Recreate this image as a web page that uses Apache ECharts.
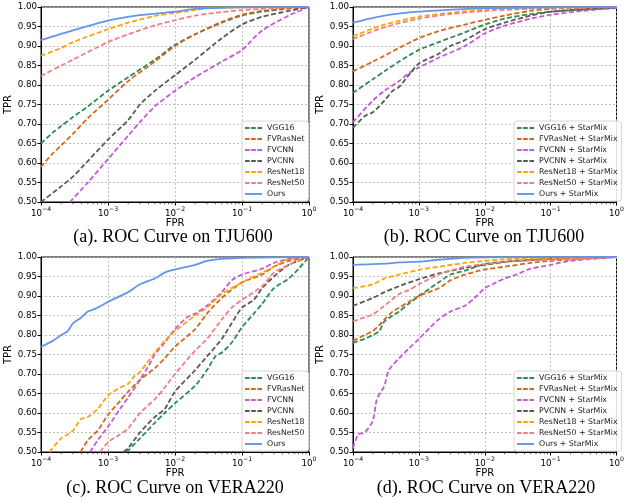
<!DOCTYPE html>
<html>
<head>
<meta charset="utf-8">
<script src="https://cdn.jsdelivr.net/npm/echarts@6/dist/echarts.min.js"></script>
<style>html,body{margin:0;padding:0;background:#fff}#c{width:627px;height:502px}</style>
</head>
<body>
<div id="c"></div>
<script>
// ---------- Data: [FPR, TPR] points ----------
const methods = ['VGG16','FVRasNet','FVCNN','PVCNN','ResNet18','ResNet50','Ours'];
const methodsMix = methods.map(m => m + ' + StarMix');
const xTicks = [1e-4, 1e-3, 1e-2, 1e-1, 1];
const xMinorTicks = [2e-4,3e-4,4e-4,5e-4,6e-4,7e-4,8e-4,9e-4,2e-3,3e-3,4e-3,5e-3,6e-3,7e-3,8e-3,9e-3,2e-2,3e-2,4e-2,5e-2,6e-2,7e-2,8e-2,9e-2,0.2,0.3,0.4,0.5,0.6,0.7,0.8,0.9];
const yTicks = [0.50,0.55,0.60,0.65,0.70,0.75,0.80,0.85,0.90,0.95,1.00];
const captions = ['(a). ROC Curve on TJU600','(b). ROC Curve on TJU600','(c). ROC Curve on VERA220','(d). ROC Curve on VERA220'];

// (a) TJU600
const a_VGG16    = [[1e-4,0.65],[1.5e-4,0.678],[2e-4,0.695],[3e-4,0.718],[5e-4,0.745],[1e-3,0.785],[2e-3,0.82],[5e-3,0.865],[1e-2,0.903],[2e-2,0.93],[5e-2,0.96],[1e-1,0.978],[2e-1,0.988],[5e-1,0.996],[1,1]];
const a_FVRasNet = [[1e-4,0.59],[1.5e-4,0.625],[2e-4,0.645],[3e-4,0.675],[5e-4,0.715],[1e-3,0.762],[2e-3,0.81],[5e-3,0.86],[1e-2,0.90],[2e-2,0.93],[5e-2,0.962],[1e-1,0.98],[2e-1,0.99],[5e-1,0.997],[1,1]];
const a_FVCNN    = [[2.7e-4,0.50],[5e-4,0.55],[1e-3,0.61],[2e-3,0.67],[3e-3,0.705],[5e-3,0.745],[1e-2,0.785],[2e-2,0.82],[5e-2,0.86],[1e-1,0.89],[2e-1,0.94],[5e-1,0.978],[1,1]];
const a_PVCNN    = [[1e-4,0.50],[2e-4,0.54],[3e-4,0.565],[5e-4,0.605],[1e-3,0.66],[2e-3,0.71],[3e-3,0.75],[5e-3,0.785],[1e-2,0.825],[2e-2,0.865],[5e-2,0.92],[1e-1,0.955],[2e-1,0.975],[5e-1,0.99],[1,1]];
const a_ResNet18 = [[1e-4,0.875],[2e-4,0.895],[3e-4,0.91],[1e-3,0.943],[2e-3,0.96],[5e-3,0.977],[1e-2,0.985],[2e-2,0.992],[3e-2,0.997],[1e-1,0.999],[1,1]];
const a_ResNet50 = [[1e-4,0.823],[2e-4,0.85],[3e-4,0.865],[1e-3,0.91],[2e-3,0.93],[5e-3,0.953],[1e-2,0.966],[2e-2,0.978],[5e-2,0.987],[1e-1,0.992],[3e-1,0.997],[1,1]];
const a_Ours     = [[1e-4,0.915],[3e-4,0.94],[1e-3,0.965],[3e-3,0.979],[1e-2,0.988],[2e-2,0.995],[1e-1,0.999],[1,1]];

// (b) TJU600 + StarMix
const b_VGG16    = [[1e-4,0.78],[2e-4,0.815],[3e-4,0.835],[5e-4,0.86],[1e-3,0.89],[2e-3,0.91],[5e-3,0.935],[1e-2,0.955],[2e-2,0.97],[5e-2,0.982],[1e-1,0.988],[3e-1,0.993],[1,0.997]];
const b_FVRasNet = [[1e-4,0.835],[2e-4,0.86],[3e-4,0.875],[5e-4,0.895],[1e-3,0.92],[2e-3,0.938],[5e-3,0.955],[1e-2,0.967],[2e-2,0.978],[5e-2,0.99],[1e-1,0.995],[1,1]];
const b_FVCNN    = [[1e-4,0.705],[2e-4,0.76],[3e-4,0.785],[5e-4,0.81],[7e-4,0.83],[1e-3,0.845],[2e-3,0.87],[5e-3,0.90],[1e-2,0.932],[2e-2,0.952],[5e-2,0.97],[1e-1,0.98],[3e-1,0.99],[1,0.998]];
const b_PVCNN    = [[1e-4,0.69],[1.5e-4,0.72],[2e-4,0.73],[3e-4,0.76],[4e-4,0.785],[5e-4,0.795],[7e-4,0.825],[1e-3,0.855],[2e-3,0.88],[3e-3,0.90],[5e-3,0.915],[1e-2,0.943],[2e-2,0.96],[5e-2,0.978],[1e-1,0.988],[1,1]];
const b_ResNet18 = [[1e-4,0.925],[3e-4,0.955],[1e-3,0.975],[3e-3,0.985],[1e-2,0.993],[1e-1,0.998],[1,1]];
const b_ResNet50 = [[1e-4,0.918],[3e-4,0.948],[1e-3,0.97],[3e-3,0.982],[1e-2,0.99],[3e-2,0.994],[1e-1,0.997],[1,1]];
const b_Ours     = [[1e-4,0.96],[3e-4,0.978],[1e-3,0.988],[1e-2,0.997],[1e-1,0.999],[1,1]];

// (c) VERA220
const c_VGG16    = [[1.9e-3,0.50],[3e-3,0.535],[5e-3,0.575],[7e-3,0.60],[1e-2,0.625],[2e-2,0.67],[3e-2,0.71],[4e-2,0.745],[5e-2,0.755],[7e-2,0.78],[1e-1,0.82],[1.5e-1,0.855],[2e-1,0.88],[3e-1,0.92],[5e-1,0.945],[7e-1,0.97],[1,1]];
const c_FVRasNet = [[3.9e-4,0.50],[5e-4,0.53],[7e-4,0.555],[1e-3,0.595],[1.5e-3,0.63],[2e-3,0.655],[3e-3,0.685],[5e-3,0.715],[7e-3,0.74],[1e-2,0.77],[2e-2,0.815],[3e-2,0.855],[5e-2,0.895],[1e-1,0.935],[2e-1,0.955],[3e-1,0.975],[5e-1,0.99],[1,1]];
const c_FVCNN    = [[5.4e-4,0.50],[7e-4,0.53],[1e-3,0.565],[1.5e-3,0.61],[2e-3,0.64],[3e-3,0.685],[4e-3,0.72],[5e-3,0.75],[7e-3,0.78],[1e-2,0.815],[1.5e-2,0.845],[2e-2,0.855],[3e-2,0.875],[5e-2,0.91],[7e-2,0.94],[1e-1,0.955],[2e-1,0.97],[3e-1,0.985],[5e-1,0.995],[1,1]];
const c_PVCNN    = [[1.7e-3,0.50],[2e-3,0.51],[3e-3,0.55],[5e-3,0.59],[7e-3,0.61],[1e-2,0.655],[2e-2,0.71],[3e-2,0.745],[5e-2,0.79],[7e-2,0.83],[1e-1,0.87],[1.5e-1,0.89],[2e-1,0.92],[3e-1,0.95],[5e-1,0.98],[1,1]];
const c_ResNet18 = [[1.33e-4,0.50],[2e-4,0.535],[2.5e-4,0.545],[3e-4,0.555],[4e-4,0.585],[5e-4,0.59],[7e-4,0.61],[1e-3,0.645],[1.5e-3,0.665],[2e-3,0.675],[2.5e-3,0.695],[3e-3,0.705],[5e-3,0.755],[7e-3,0.785],[1e-2,0.81],[2e-2,0.85],[3e-2,0.87],[5e-2,0.905],[1e-1,0.935],[2e-1,0.96],[3e-1,0.975],[5e-1,0.995],[1,1]];
const c_ResNet50 = [[7.6e-4,0.50],[1e-3,0.525],[1.5e-3,0.545],[2e-3,0.56],[3e-3,0.60],[5e-3,0.635],[7e-3,0.665],[1e-2,0.70],[2e-2,0.76],[3e-2,0.79],[5e-2,0.84],[7e-2,0.87],[1e-1,0.89],[2e-1,0.925],[3e-1,0.96],[5e-1,0.98],[1,1]];
const c_Ours     = [[1e-4,0.77],[1.5e-4,0.785],[2e-4,0.80],[2.5e-4,0.81],[3e-4,0.83],[4e-4,0.845],[5e-4,0.86],[7e-4,0.87],[1e-3,0.885],[2e-3,0.91],[3e-3,0.93],[5e-3,0.945],[7e-3,0.96],[1e-2,0.968],[2e-2,0.98],[3e-2,0.99],[5e-2,0.995],[1e-1,0.998],[1,1]];

// (d) VERA220 + StarMix
const d_VGG16    = [[1e-4,0.78],[1.5e-4,0.79],[2e-4,0.80],[2.5e-4,0.81],[3e-4,0.835],[4e-4,0.85],[5e-4,0.86],[7e-4,0.88],[1e-3,0.90],[2e-3,0.935],[3e-3,0.955],[5e-3,0.965],[1e-2,0.982],[2e-2,0.988],[5e-2,0.992],[1e-1,0.995],[1,1]];
const d_FVRasNet = [[1e-4,0.785],[1.5e-4,0.80],[2e-4,0.81],[2.5e-4,0.825],[3e-4,0.84],[4e-4,0.86],[5e-4,0.87],[7e-4,0.885],[1e-3,0.90],[2e-3,0.92],[3e-3,0.94],[5e-3,0.955],[1e-2,0.968],[2e-2,0.975],[5e-2,0.985],[1e-1,0.99],[3e-1,0.995],[1,1]];
const d_FVCNN    = [[1e-4,0.51],[1.2e-4,0.545],[1.5e-4,0.55],[2e-4,0.58],[2.3e-4,0.635],[3e-4,0.67],[3.5e-4,0.71],[5e-4,0.74],[7e-4,0.765],[1e-3,0.79],[1.5e-3,0.82],[2e-3,0.84],[3e-3,0.86],[5e-3,0.875],[7e-3,0.895],[1e-2,0.92],[1.5e-2,0.935],[2e-2,0.945],[3e-2,0.955],[5e-2,0.97],[1e-1,0.98],[2e-1,0.99],[1,1]];
const d_PVCNN    = [[1e-4,0.875],[2e-4,0.895],[3e-4,0.91],[5e-4,0.925],[1e-3,0.943],[2e-3,0.958],[5e-3,0.972],[1e-2,0.98],[3e-2,0.99],[1e-1,0.995],[1,1]];
const d_ResNet18 = [[1e-4,0.92],[2e-4,0.93],[3e-4,0.945],[5e-4,0.955],[1e-3,0.967],[2e-3,0.975],[5e-3,0.985],[1e-2,0.99],[2e-2,0.994],[1e-1,0.997],[1,1]];
const d_ResNet50 = [[1e-4,0.835],[1.5e-4,0.845],[2e-4,0.853],[3e-4,0.875],[5e-4,0.905],[7e-4,0.915],[1e-3,0.93],[2e-3,0.955],[3e-3,0.965],[5e-3,0.975],[1e-2,0.982],[3e-2,0.99],[1e-1,0.993],[1,1]];
const d_Ours     = [[1e-4,0.98],[3e-4,0.983],[5e-4,0.986],[1e-3,0.988],[2e-3,0.993],[5e-3,0.998],[1e-2,0.999],[1,1]];

const panelData = [
  [a_VGG16,a_FVRasNet,a_FVCNN,a_PVCNN,a_ResNet18,a_ResNet50,a_Ours],
  [b_VGG16,b_FVRasNet,b_FVCNN,b_PVCNN,b_ResNet18,b_ResNet50,b_Ours],
  [c_VGG16,c_FVRasNet,c_FVCNN,c_PVCNN,c_ResNet18,c_ResNet50,c_Ours],
  [d_VGG16,d_FVRasNet,d_FVCNN,d_PVCNN,d_ResNet18,d_ResNet50,d_Ours]
];

// ---------- Styling ----------
const colors = ['#2e8b57','#d2691e','#c45ad8','#5a5a5a','#ffa500','#f08080','#6495ed'];
const FONT = 'DejaVu Sans';
const DASH_ICON = 'path://M0 0H9V3H0ZM12 0H21V3H12ZM24 0H33V3H24Z';
const SOLID_ICON = 'path://M0 0H33V3H0Z';
const grids = [
  {left:41, top:7, width:268, height:195},
  {left:353, top:7, width:269, height:195},
  {left:41, top:257, width:268, height:195},
  {left:353, top:257, width:269, height:195}
];
const legendPos = [
  {left:242, top:121},{left:514, top:121},{left:242, top:371},{left:514, top:371}
];
const captionPos = [[173,237],[484,237],[175,488],[486,488]];

const option = {
  animation:false,
  backgroundColor:'#fff',
  grid: grids.map(g => Object.assign({show:true, borderColor:'#000', borderWidth:1, containLabel:false}, g)),
  xAxis: grids.map((g,i) => ({
    type:'log', logBase:10, min:1e-4, max:1, gridIndex:i,
    name:'FPR', nameLocation:'middle', nameGap:14,
    nameTextStyle:{fontFamily:FONT, fontSize:10, color:'#000'},
    axisLine:{show:true, lineStyle:{color:'#000', width:1}},
    axisTick:{show:true, inside:false, length:3.5, lineStyle:{color:'#000'}},
    minorTick:{show:false},
    splitLine:{show:true, lineStyle:{color:'#b0b0b0', width:0.8, type:[2,2]}},
    axisLabel:{
      margin:4, color:'#000', fontFamily:FONT, fontSize:8.7,
      formatter: v => {
        const n = Math.round(Math.log10(v));
        return '{b|10}{s|' + (n < 0 ? '\u2212' + (-n) : n) + '}';
      },
      rich:{
        b:{fontFamily:FONT, fontSize:8.7, color:'#000', verticalAlign:'bottom', lineHeight:12},
        s:{fontFamily:FONT, fontSize:6.2, color:'#000', verticalAlign:'top', lineHeight:8, padding:[0,0,4,0]}
      }
    }
  })),
  yAxis: grids.map((g,i) => ({
    type:'value', min:0.5, max:1.0, interval:0.05, gridIndex:i,
    name:'TPR', nameLocation:'middle', nameGap:19, nameRotate:90,
    nameTextStyle:{fontFamily:FONT, fontSize:10, color:'#000'},
    axisLine:{show:true, lineStyle:{color:'#000', width:1}},
    axisTick:{show:true, inside:false, length:3.5, lineStyle:{color:'#000'}},
    splitLine:{show:true, lineStyle:{color:'#b0b0b0', width:0.8, type:[2,2]}},
    axisLabel:{margin:4, color:'#000', fontFamily:FONT, fontSize:8.7, formatter: v => v.toFixed(2)}
  })),
  legend: legendPos.map((p,i) => ({
    left:p.left, top:p.top, orient:'vertical',
    data: (i % 2 === 0 ? methods : methodsMix).map((n,k) => ({name:n, icon: k === 6 ? SOLID_ICON : DASH_ICON})),
    itemWidth:17, itemHeight:1.9, itemGap:3, padding:[3,4,3,3], symbolKeepAspect:false,
    backgroundColor:'rgba(255,255,255,0.85)', borderColor:'#d6d6d6', borderWidth:1, borderRadius:3,
    textStyle:{fontFamily:FONT, fontSize:7.8, color:'#222', lineHeight:8},
    selectedMode:false
  })),
  graphic: captions.map((t,i) => ({
    type:'text', x:captionPos[i][0], y:captionPos[i][1],
    style:{text:t, font:'18px "Liberation Serif", "Times New Roman", serif', fill:'#000', align:'center', verticalAlign:'middle'}
  })),
  series: []
};

panelData.forEach((arr, p) => {
  arr.forEach((d, k) => {
    const names = (p % 2 === 0 ? methods : methodsMix);
    const solid = k === 6;
    option.series.push({
      type:'line', name:names[k], xAxisIndex:p, yAxisIndex:p,
      data:d, showSymbol:false, symbol:'none', smooth:0.25, clip:true,
      lineStyle:{color:colors[k], width:1.8, type: solid ? 'solid' : [5,2.5]},
      itemStyle:{color:colors[k]},
      z: solid ? 3 : 2
    });
  });
  // minor ticks on the log x-axis (drawn through the axis scale)
  option.series.push({
    type:'scatter', xAxisIndex:p, yAxisIndex:p, silent:true, clip:false,
    data: xMinorTicks.map(v => [v, 0.5]),
    symbol:'rect', symbolSize:[0.8, 2.2], symbolOffset:[0, 1.1],
    itemStyle:{color:'#000'}, z:5
  });
});

const chart = echarts.init(document.getElementById('c'), null, {renderer:'canvas'});
chart.setOption(option);
</script>
</body>
</html>
